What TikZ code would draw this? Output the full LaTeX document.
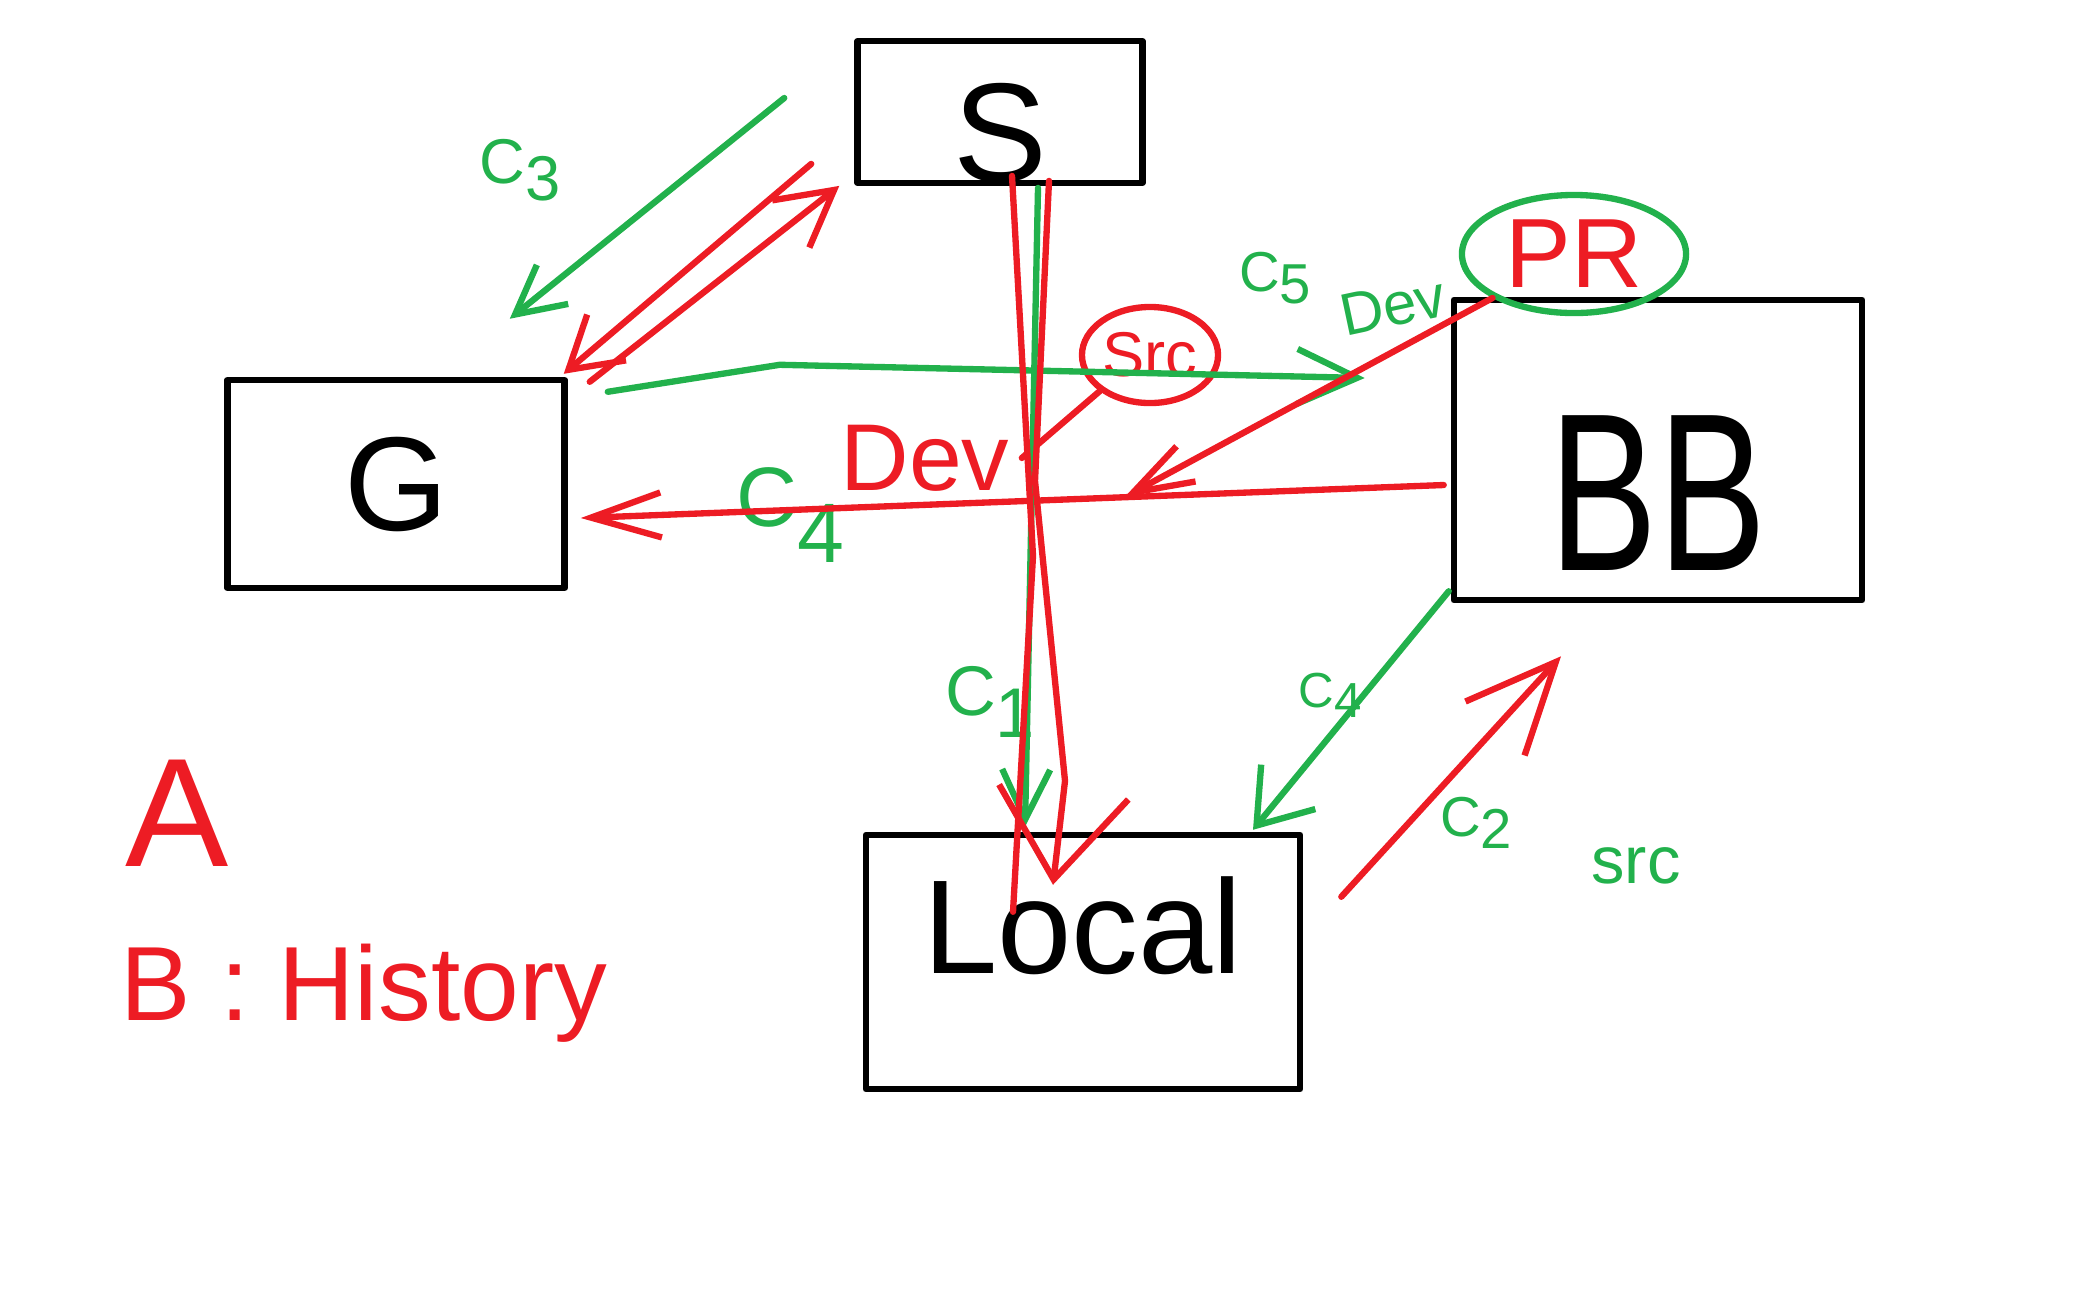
\documentclass[tikz,border=0pt]{standalone}
\usepackage{fontspec}
\setmainfont{Liberation Sans}
\usetikzlibrary{arrows.meta,shapes.geometric,calc}
\definecolor{pred}{HTML}{ED1C24}
\definecolor{pgreen}{HTML}{22B14C}
\begin{document}
\begin{tikzpicture}[x=0.01cm,y=-0.01cm,
  pen/.style={line width=1.8pt,line cap=round,line join=round},
  box/.style={pen,draw=black,rectangle,inner sep=0pt},
  redpen/.style={pen,draw=pred},
  greenpen/.style={pen,draw=pgreen},
  redtxt/.style={text=pred,font=\fontsize{#1}{#1}\selectfont},
  greentxt/.style={text=pgreen,font=\fontsize{#1}{#1}\selectfont}]
  \useasboundingbox (0,0) rectangle (2073,1296);
  \node[box,minimum width=2.85cm,minimum height=1.36cm,text height=1.4cm,font=\fontsize{40}{40}\selectfont] (srv) at (1000,112) {S};
  \node[box,minimum width=3.37cm,minimum height=2.08cm,font=\fontsize{38}{38}\selectfont] (g) at (396,484) {G};
  \node[box,minimum width=4.08cm,minimum height=3.0cm,text height=2.4cm,font=\fontsize{64}{64}\selectfont] (bb) at (1658,450) {\scalebox{0.72}[1]{BB}};
  \node[box,minimum width=4.34cm,minimum height=2.54cm,text depth=0.74cm,font=\fontsize{38}{38}\selectfont] (local) at (1083,962) {Local};
  \node[ellipse,pen,draw=pgreen,inner sep=0pt,minimum width=2.24cm,minimum height=1.18cm,redtxt=28] (pr) at (1574,254) {PR};
  \node[ellipse,pen,draw=pred,inner sep=0pt,minimum width=1.36cm,minimum height=0.96cm,redtxt=18] (src) at (1150,355) {Src};
  \node[greentxt=18] (c3) at (520,170) {C\raisebox{-0.5ex}{3}};
  \node[greentxt=16] (c5) at (1275,278) {C\raisebox{-0.4ex}{5}};
  \node[greentxt=17,rotate=12] (devg) at (1393,306) {Dev};
  \node[redtxt=27] (devr) at (925,458) {Dev};
  \node[greentxt=24] (c4) at (790,515) {C\raisebox{-0.8ex}{4}};
  \node[greentxt=20] (c1) at (990,702) {C\raisebox{-0.6ex}{1}};
  \node[greentxt=16] (c2) at (1476,823) {C\raisebox{-0.4ex}{2}};
  \node[greentxt=14] (c4b) at (1330,695) {C\raisebox{-0.4ex}{4}};
  \node[greentxt=19] (srcl) at (1636,866) {src};
  \node[redtxt=44] (a) at (177,813) {A};
  \node[redtxt=30,anchor=base west] (hist) at (108,1020) {B : History};
  % S and G
  \draw[greenpen,-{Straight Barb[length=0.48cm,width=0.5cm]}] ([shift={(-70,-14)}]srv.west) -- ([shift={(-58,-58)}]g.north east);
  \draw[redpen,-{Straight Barb[length=0.5cm,width=0.6cm]}] ([shift={(-43,-22)}]srv.south west) -- ([shift={(-4,-3)}]g.north east);
  \draw[redpen,-{Straight Barb[length=0.55cm,width=0.6cm]}] ([shift={(22,5)}]g.north east) -- ([shift={(-15,0)}]srv.south west);
  % G and BB
  \draw[greenpen,-{Straight Barb[length=0.6cm,width=0.55cm]}] ([shift={(40,15)}]g.north east) -- ++(172,-27) -- ([shift={(-86,-72)}]bb.west);
  \coordinate (bbout) at ([shift={(-7,35)}]bb.west);
  \coordinate (gin) at ([shift={(13,34)}]g.east);
  \draw[redpen,-{Straight Barb[length=0.7cm,width=0.45cm]}] (bbout) -- (gin);
  \draw[redpen,-{Straight Barb[length=0.6cm,width=0.4cm]}] (pr.south west) -- ($(bbout)!0.37!(gin)$);
  \draw[redpen] (src.south west) -- (devr.east);
  % S and Local
  \draw[greenpen,-{Straight Barb[length=0.5cm,width=0.48cm]}] ([shift={(38,2)}]srv.south) -- ([shift={(-58,-5)}]local.north);
  \draw[redpen] ([shift={(12,-10)}]srv.south) -- ++(21,380) -- ([shift={(-70,80)}]local.north);
  \draw[redpen,-{Straight Barb[length=0.88cm,width=1.3cm]}] ([shift={(49,-5)}]srv.south) -- ++(-14,300) -- ++(30,300) -- ([shift={(-30,53)}]local.north);
  % Local and BB
  \draw[redpen,-{Straight Barb[length=0.9cm,width=0.8cm]}] ([shift={(38,65)}]local.north east) -- ([shift={(-97,53)}]bb.south);
  \draw[greenpen,-{Straight Barb[length=0.5cm,width=0.7cm]}] ([shift={(-2,-12)}]bb.south west) -- ([shift={(170,-2)}]local.north);
\end{tikzpicture}
\end{document}
